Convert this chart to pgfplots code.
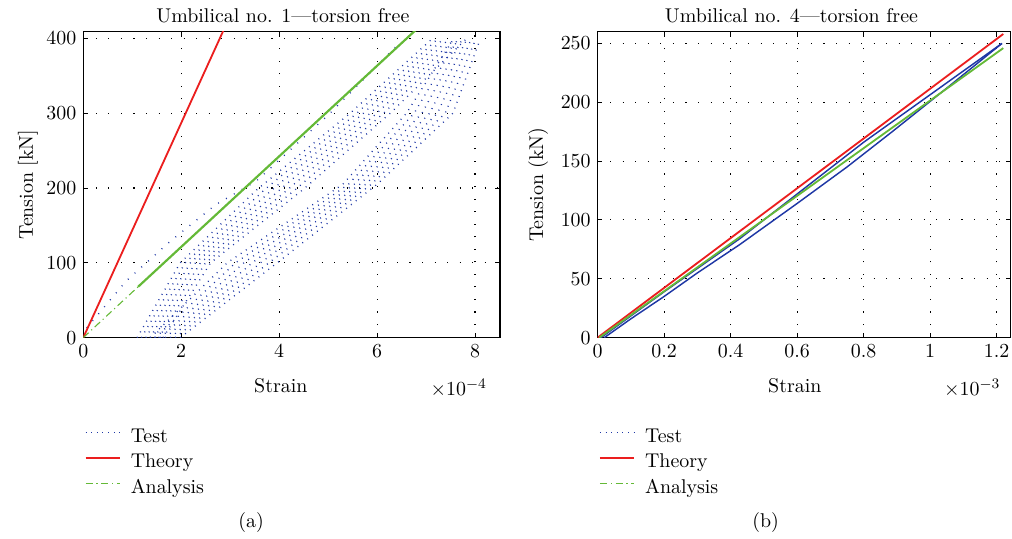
\documentclass[11pt,border=0pt]{standalone}
\usepackage{pgfplots}
\pgfplotsset{compat=1.18}
\definecolor{testblue}{RGB}{30,55,165}
\definecolor{theoryred}{RGB}{235,30,30}
\definecolor{anagreen}{RGB}{100,185,55}
\pgfplotsset{
  myaxis/.style={
    scale only axis, height=168.3pt, clip mode=individual,
    axis line style={line width=0.6pt},
    tick align=inside, major tick length=2.5pt,
    tick style={line width=0.5pt, black},
    grid=major,
    major grid style={black, line width=0.6pt, dash pattern=on 0.6pt off 6.3pt},
    xmin=0, ymin=0,
    legend cell align=left,
    legend style={draw=none, fill=none, inner sep=0pt, outer sep=0pt, anchor=north west,
      at={(axis description cs:0.004,-0.297)}, row sep=4.6pt, column sep=5.5pt,
      nodes={inner sep=0pt, text height=7.5pt, text depth=2pt}},
    legend image code/.code={\draw[#1] (0pt,2.7pt) -- (19pt,2.7pt);},
  },
  testA/.style={testblue, line width=0.75pt, dash pattern=on 0.5pt off 2.9pt, forget plot},
}
\begin{document}
\begin{tikzpicture}
\path[use as bounding box] (-45.8pt,-110.7pt) rectangle (510.8pt,185.7pt);
% ---------------- left ----------------
\begin{axis}[myaxis, width=229.2pt, at={(0pt,0pt)}, anchor=south west,
  xmax=8.51, ymax=409, xtick={0,2,4,6,8}, ytick={0,100,200,300,400}]
\addlegendimage{testblue, line width=0.6pt, dash pattern=on 0.5pt off 2.6pt}
\addlegendentry{Test}
\addlegendimage{theoryred, line width=0.7pt}
\addlegendentry{Theory}
\addlegendimage{anagreen, line width=0.7pt, dash pattern=on 4pt off 2pt on 0.6pt off 2pt}
\addlegendentry{Analysis}
% Test: band A
\addplot[testA] coordinates {(1.1,0)(1.98,100)(3.55,198)(5.45,300)(7.1,398)};
\addplot[testA] coordinates {(1.188,0)(2.083,100)(3.707,198)(5.587,300)(7.217,398)};
\addplot[testA] coordinates {(1.277,0)(2.187,100)(3.863,198)(5.723,300)(7.333,398)};
\addplot[testA] coordinates {(1.365,0)(2.29,100)(4.02,198)(5.86,300)(7.45,398)};
\addplot[testA] coordinates {(1.453,0)(2.393,100)(4.177,198)(5.997,300)(7.567,398)};
\addplot[testA] coordinates {(1.542,0)(2.497,100)(4.333,198)(6.133,300)(7.683,398)};
\addplot[testA] coordinates {(1.63,0)(2.6,100)(4.49,198)(6.27,300)(7.8,398)};
% Test: band B
\addplot[testA] coordinates {(1.37,0)(2.94,100)(5.3,205)(6.6,300)(7.55,398)};
\addplot[testA] coordinates {(1.472,0)(3.11,100)(5.417,205)(6.758,300)(7.642,398)};
\addplot[testA] coordinates {(1.573,0)(3.28,100)(5.533,205)(6.917,300)(7.733,398)};
\addplot[testA] coordinates {(1.675,0)(3.45,100)(5.65,205)(7.075,300)(7.825,398)};
\addplot[testA] coordinates {(1.777,0)(3.62,100)(5.767,205)(7.233,300)(7.917,398)};
\addplot[testA] coordinates {(1.878,0)(3.79,100)(5.883,205)(7.392,300)(8.008,398)};
\addplot[testA] coordinates {(1.98,0)(3.96,100)(6.0,205)(7.55,300)(8.1,398)};
% Test: initial loading
\addplot[testblue, line width=0.75pt, dash pattern=on 0.5pt off 4.5pt, forget plot]
  coordinates {(0.07,13)(0.88,76)(1.78,129)(2.71,178)(3.53,209)(5.04,300)(6.4,390)};
% Theory
\addplot[theoryred, line width=1pt, forget plot] coordinates {(0,0)(2.9,416)};
% Analysis
\addplot[anagreen, line width=0.6pt, dash pattern=on 4pt off 2pt on 0.6pt off 2pt, forget plot]
  coordinates {(0,0)(1.12,68)};
\addplot[anagreen, line width=1.2pt, forget plot] coordinates {(1.12,68)(6.82,413)};
\node[anchor=base] at (axis description cs:0.479,1.029) {Umbilical no. 1---torsion free};
\node at (axis description cs:0.474,-0.158) {Strain};
\node[anchor=east] at (axis description cs:0.985,-0.164) {$\times10^{-4}$};
\node[rotate=90] at (axis description cs:-0.133,0.5) {Tension [kN]};
\node at (axis description cs:0.403,-0.605) {(a)};
\end{axis}
% ---------------- right ----------------
\begin{axis}[myaxis, width=227.3pt, at={(282.9pt,0pt)}, anchor=south west,
  xmax=1.243, ymax=260, xtick={0,0.2,0.4,0.6,0.8,1,1.2}, ytick={0,50,100,150,200,250}]
\addlegendimage{testblue, line width=0.6pt, dash pattern=on 0.5pt off 2.6pt}
\addlegendentry{Test}
\addlegendimage{theoryred, line width=0.7pt}
\addlegendentry{Theory}
\addlegendimage{anagreen, line width=0.7pt, dash pattern=on 4pt off 2pt on 0.6pt off 2pt}
\addlegendentry{Analysis}
\addplot[testblue, line width=0.8pt, forget plot]
  coordinates {(0.02,0)(0.1,16)(0.2,35)(0.3,55)(0.427,79)(0.6,114)(0.75,145)(0.886,175)(1.05,212)(1.216,250)};
\addplot[testblue, line width=0.8pt, forget plot]
  coordinates {(0.01,0)(0.2,39)(0.427,84)(0.8,166)(1.216,250)};
\addplot[theoryred, line width=1pt, forget plot] coordinates {(0,0)(1.22,258)};
\addplot[anagreen, line width=1pt, forget plot] coordinates {(0.005,0)(1.22,246)};
\node[anchor=base] at (axis description cs:0.469,1.029) {Umbilical no. 4---torsion free};
\node at (axis description cs:0.477,-0.158) {Strain};
\node[anchor=east] at (axis description cs:0.991,-0.164) {$\times10^{-3}$};
\node[rotate=90] at (axis description cs:-0.144,0.5) {Tension (kN)};
\node at (axis description cs:0.4065,-0.605) {(b)};
\end{axis}
\end{tikzpicture}
\end{document}
